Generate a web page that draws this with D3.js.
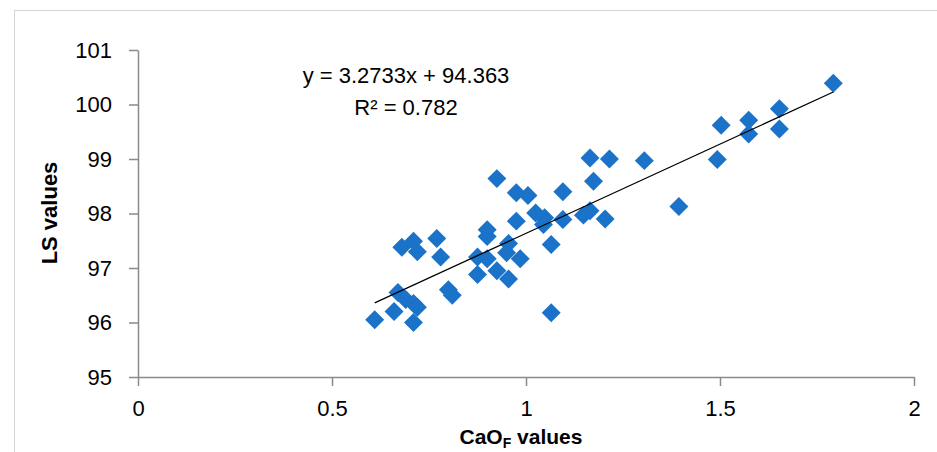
<!DOCTYPE html>
<html>
<head>
<meta charset="utf-8">
<script src="https://cdn.jsdelivr.net/npm/d3@7"></script>
<style>
  html, body { margin: 0; padding: 0; background: #fff; }
  svg { display: block; }
  text { font-family: "Liberation Sans", Arial, sans-serif; }
</style>
</head>
<body>
<svg id="chart" width="937" height="452"></svg>
<script>
// ---- data ----
const cao = [0.61, 0.66, 0.67, 0.69, 0.71, 0.71, 0.72, 0.68, 0.71, 0.72,
             0.77, 0.78, 0.80, 0.81, 0.875, 0.875, 0.90, 0.90, 0.90, 0.925,
             0.955, 0.95, 0.955, 0.985, 0.925, 0.975, 1.005, 0.975, 1.025, 1.048,
             1.045, 1.065, 1.065, 1.095, 1.095, 1.148, 1.165, 1.174, 1.165, 1.215,
             1.204, 1.305, 1.394, 1.493, 1.503, 1.574, 1.574, 1.653, 1.653, 1.792];
const ls  = [96.05, 96.20, 96.55, 96.42, 96.00, 96.35, 96.28, 97.38, 97.49, 97.30,
             97.54, 97.20, 96.60, 96.50, 96.88, 97.20, 97.17, 97.70, 97.58, 96.95,
             96.80, 97.28, 97.45, 97.17, 98.64, 98.38, 98.33, 97.86, 98.01, 97.92,
             97.80, 97.43, 96.18, 98.40, 97.89, 97.97, 98.05, 98.59, 99.02, 99.00,
             97.90, 98.97, 98.13, 98.99, 99.62, 99.71, 99.46, 99.92, 99.55, 100.39];
const xTicks = [0, 0.5, 1, 1.5, 2];
const yTicks = [95, 96, 97, 98, 99, 100, 101];
const slope = 3.2733, intercept = 94.363;
const eqLines = ["y = 3.2733x + 94.363", "R² = 0.782"];
const xTitle = "CaO", xTitleSub = "F", xTitleRest = " values";
const yTitle = "LS values";

(function () {
  const svg = d3.select("#chart");
  const mLeft = 138, mRight = 914, mTop = 50, mBottom = 377;
  const x = d3.scaleLinear().domain([0, 2]).range([mLeft, mRight]);
  const y = d3.scaleLinear().domain([95, 101]).range([mBottom, mTop]);

  // outer border
  svg.append("rect").attr("x", 14.5).attr("y", 10.5).attr("width", 940).attr("height", 460)
    .attr("fill", "none").attr("stroke", "#d4d4d4").attr("stroke-width", 1);

  const axisColor = "#8a8a8a";
  const fs = 22;
  const ff = "Liberation Sans, Arial, sans-serif";

  // x axis
  const gx = svg.append("g").attr("transform", `translate(0,${mBottom})`)
    .call(d3.axisBottom(x).tickValues(xTicks).tickSize(9).tickSizeOuter(0).tickPadding(14)
          .tickFormat(d => String(d)));
  gx.select(".domain").attr("stroke", axisColor).attr("stroke-width", 1.5);
  gx.selectAll(".tick line").attr("stroke", axisColor).attr("stroke-width", 1.5);
  gx.selectAll(".tick text").attr("font-size", fs).attr("fill", "#000").attr("font-family", ff);

  // y axis
  const gy = svg.append("g").attr("transform", `translate(${mLeft},0)`)
    .call(d3.axisLeft(y).tickValues(yTicks).tickSize(9).tickSizeOuter(0).tickPadding(17)
          .tickFormat(d => String(d)));
  gy.select(".domain").attr("stroke", axisColor).attr("stroke-width", 1.5);
  gy.selectAll(".tick line").attr("stroke", axisColor).attr("stroke-width", 1.5);
  gy.selectAll(".tick text").attr("font-size", fs).attr("fill", "#000").attr("font-family", ff);

  // points
  const sym = d3.symbol().type(d3.symbolSquare).size(180);
  svg.append("g").selectAll("path").data(cao.map((c, i) => [c, ls[i]])).join("path")
    .attr("d", sym)
    .attr("transform", d => `translate(${x(d[0])},${y(d[1])}) rotate(45)`)
    .attr("fill", "#1a73c9");

  // trend line
  const xmin = d3.min(cao), xmax = d3.max(cao);
  svg.append("line")
    .attr("x1", x(xmin)).attr("y1", y(slope * xmin + intercept))
    .attr("x2", x(xmax)).attr("y2", y(slope * xmax + intercept))
    .attr("stroke", "#000").attr("stroke-width", 1.3);

  // equation
  svg.append("text").attr("x", 406).attr("y", 83).attr("text-anchor", "middle")
    .attr("font-size", fs).text(eqLines[0]);
  svg.append("text").attr("x", 406).attr("y", 115).attr("text-anchor", "middle")
    .attr("font-size", fs).text(eqLines[1]);

  // x title
  const xt = svg.append("text").attr("x", 521).attr("y", 444).attr("text-anchor", "middle")
    .attr("font-size", 21).attr("font-weight", "bold");
  xt.append("tspan").text(xTitle);
  xt.append("tspan").attr("font-size", 14).attr("dy", 4).text(xTitleSub);
  xt.append("tspan").attr("dy", -4).text(xTitleRest);

  // y title
  svg.append("text").attr("transform", "translate(57,213) rotate(-90)")
    .attr("text-anchor", "middle").attr("font-size", fs).attr("font-weight", "bold")
    .text(yTitle);
})();
</script>
</body>
</html>
